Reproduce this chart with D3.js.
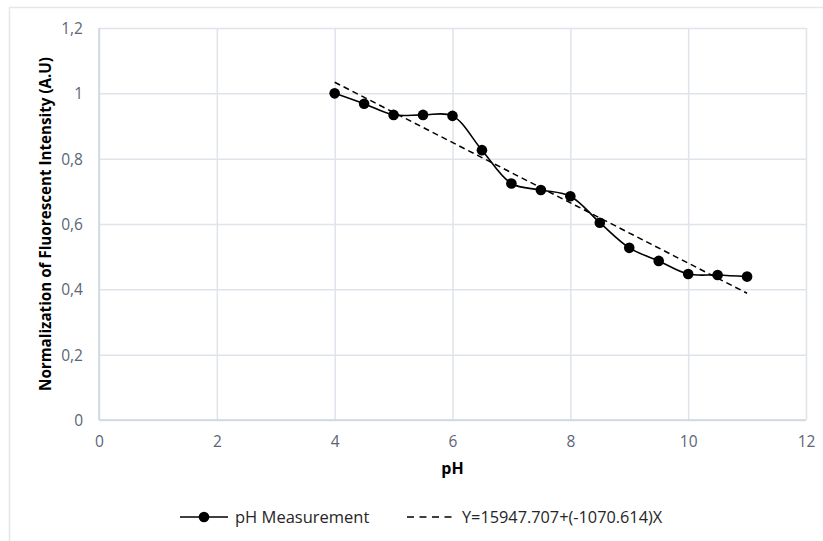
<!DOCTYPE html>
<html>
<head>
<meta charset="utf-8">
<script src="https://cdn.jsdelivr.net/npm/d3@7"></script>
<style>
  html, body { margin: 0; padding: 0; background: #fff; }
  svg { display: block; }
</style>
</head>
<body>
<svg id="chart" width="823" height="541"></svg>
<script>
// pH measurements (x) and normalized fluorescent intensity (y)
const phValues = [4, 4.5, 5, 5.5, 6, 6.5, 7, 7.5, 8, 8.5, 9, 9.5, 10, 10.5, 11];
const intensity = [1.0, 0.968, 0.934, 0.934, 0.931, 0.826, 0.724, 0.704, 0.685, 0.604, 0.527, 0.487, 0.447, 0.444, 0.439];

// Linear trend line endpoints
const trendX = [4, 11];
const trendY = [1.034, 0.388];

// Axis ticks
const xTicks = [0, 2, 4, 6, 8, 10, 12];
const yTicks = [0, 0.2, 0.4, 0.6, 0.8, 1, 1.2];

const seriesLabel = "pH Measurement";
const trendLabel = "Y=15947.707+(-1070.614)X";
const xTitle = "pH";
const yTitle = "Normalization of Fluorescent Intensity (A.U)";

const font = "'Open Sans', 'Segoe UI', sans-serif";
const gridColor = "#dfe3ea";
const tickColor = "#5b6577";

const svg = d3.select("#chart");
const plot = { left: 99, right: 806, top: 28, bottom: 420 };

const x = d3.scaleLinear().domain([0, 12]).range([plot.left, plot.right]);
const y = d3.scaleLinear().domain([0, 1.2]).range([plot.bottom, plot.top]);

// Outer frame (top and left edges visible)
svg.append("path")
  .attr("d", `M9.5,541 V7.5 H823`)
  .attr("fill", "none")
  .attr("stroke", "#e3e6eb")
  .attr("stroke-width", 1.5);

const fmt = d => String(d).replace(".", ",");

// Vertical gridlines + bottom axis labels
const xAxis = d3.axisBottom(x).tickValues(xTicks).tickSize(-(plot.bottom - plot.top)).tickFormat(fmt);
const gx = svg.append("g").attr("transform", `translate(0,${plot.bottom})`).call(xAxis);
gx.select(".domain").remove();
gx.selectAll(".tick line").attr("stroke", gridColor).attr("stroke-width", 1.5);
gx.selectAll(".tick text")
  .attr("y", 27).attr("dy", 0)
  .attr("fill", tickColor)
  .style("font-family", font).style("font-size", "15.5px");

// Horizontal gridlines + left axis labels
const yAxis = d3.axisLeft(y).tickValues(yTicks).tickSize(-(plot.right - plot.left)).tickFormat(fmt);
const gy = svg.append("g").attr("transform", `translate(${plot.left},0)`).call(yAxis);
gy.select(".domain").remove();
gy.selectAll(".tick line").attr("stroke", gridColor).attr("stroke-width", 1.5);
gy.selectAll(".tick text")
  .attr("x", -16).attr("dy", "0.35em")
  .attr("fill", tickColor)
  .style("font-family", font).style("font-size", "15.5px");

// Axis lines
svg.append("line")
  .attr("x1", plot.left).attr("x2", plot.left)
  .attr("y1", plot.top).attr("y2", plot.bottom)
  .attr("stroke", "#cfd5df").attr("stroke-width", 1.5);
svg.append("line")
  .attr("x1", plot.left).attr("x2", plot.right)
  .attr("y1", plot.bottom).attr("y2", plot.bottom)
  .attr("stroke", "#cfd5df").attr("stroke-width", 1.5);

// Smoothed measurement line
const points = phValues.map((p, i) => [p, intensity[i]]);
const line = d3.line()
  .x(d => x(d[0])).y(d => y(d[1]))
  .curve(d3.curveCatmullRom.alpha(0.5));

svg.append("path")
  .datum(points)
  .attr("d", line)
  .attr("fill", "none")
  .attr("stroke", "#000")
  .attr("stroke-width", 1.6);

// Trend line (dashed)
const trendPts = trendX.map((p, i) => [p, trendY[i]]);
svg.append("path")
  .datum(trendPts)
  .attr("d", d3.line().x(d => x(d[0])).y(d => y(d[1])))
  .attr("fill", "none")
  .attr("stroke", "#000")
  .attr("stroke-width", 1.5)
  .attr("stroke-dasharray", "6,4");

// Markers
svg.append("g").selectAll("circle")
  .data(points)
  .join("circle")
  .attr("cx", d => x(d[0]))
  .attr("cy", d => y(d[1]))
  .attr("r", 5.3)
  .attr("fill", "#000");

// Axis titles
svg.append("text")
  .attr("x", (plot.left + plot.right) / 2)
  .attr("y", 474)
  .attr("text-anchor", "middle")
  .style("font-family", font).style("font-size", "16px").style("font-weight", "bold")
  .attr("fill", "#000")
  .text(xTitle);

svg.append("text")
  .attr("transform", `translate(51,${(plot.top + plot.bottom) / 2}) rotate(-90)`)
  .attr("text-anchor", "middle")
  .style("font-family", font).style("font-size", "15.2px").style("font-weight", "bold")
  .attr("fill", "#000")
  .text(yTitle);

// Legend
const legY = 517;
const leg = svg.append("g");
leg.append("line")
  .attr("x1", 180).attr("x2", 228).attr("y1", legY).attr("y2", legY)
  .attr("stroke", "#000").attr("stroke-width", 1.6);
leg.append("circle").attr("cx", 204).attr("cy", legY).attr("r", 5.3).attr("fill", "#000");
leg.append("text")
  .attr("x", 235).attr("y", legY).attr("dy", "0.35em")
  .style("font-family", font).style("font-size", "16.5px")
  .attr("fill", "#262626")
  .text(seriesLabel);

leg.append("line")
  .attr("x1", 407).attr("x2", 452).attr("y1", legY).attr("y2", legY)
  .attr("stroke", "#000").attr("stroke-width", 1.5)
  .attr("stroke-dasharray", "7,5.5");
leg.append("text")
  .attr("x", 462).attr("y", legY).attr("dy", "0.35em")
  .style("font-family", font).style("font-size", "16.3px")
  .attr("fill", "#262626")
  .text(trendLabel);
</script>
</body>
</html>
